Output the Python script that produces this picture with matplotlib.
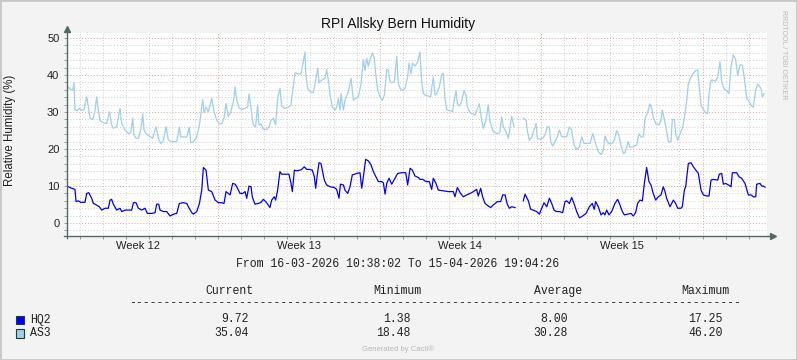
import datetime as dt
import matplotlib
matplotlib.use("Agg")
import matplotlib.pyplot as plt
import matplotlib.dates as mdates
from matplotlib.patches import Rectangle
from matplotlib.ticker import MultipleLocator, NullFormatter

nan = float("nan")

# Time window of the graph
start = dt.datetime(2026, 3, 16, 10, 38, 2)
end = dt.datetime(2026, 4, 15, 19, 4, 26)

# HQ2 sensor: hours since start, relative humidity (%)
hq2_hours = [
    0, 3.8, 8.3, 9.4, 11.8, 14.2, 18.7, 20.5, 22.6, 25.7, 27.4, 29.1, 33.7, 36.1, 39.6,
    43.0, 44.8, 46.5, 48.2, 51.7, 55.2, 56.9, 60.4, 65.6, 67.3, 69.1, 71.8, 74.3, 77.7, 81.2,
    83.6, 88.1, 91.6, 93.3, 95.4, 96.8, 100.3, 103.8, 107.2, 110.7, 114.2, 116.9, 121.1, 124.6, 126.3,
    129.8, 131.5, 135.0, 137.8, 140.2, 141.9, 144.7, 147.1, 150.6, 154.1, 157.5, 161.0, 163.4, 165.5, 167.9,
    169.7, 172.4, 174.9, 176.6, 180.1, 182.9, 185.3,
    187.0, 189.4, 191.5, 192.8, 195.6, 199.1, 201.9, 204.3, 206.7, 208.8, 211.2, 213.0, 215.7, 217.1, 219.2,
    221.6, 223.4, 226.9, 231.0, 233.1, 234.5, 236.6, 239.0, 242.5, 244.2, 247.0, 249.4, 251.8, 255.3, 257.4,
    258.8, 260.2, 262.2, 264.3, 265.7, 267.8, 270.2, 273.7, 278.2, 280.6, 283.1, 284.5, 287.6, 289.3, 292.1,
    294.5, 296.9, 301.5, 304.9, 306.7, 308.4, 310.8, 313.6, 316.4, 318.8, 322.3, 324.0, 327.5, 329.2, 331.0,
    332.7, 335.1, 337.9, 340.7, 344.1, 348.3, 352.5, 354.5, 357.0, 359.4, 362.2, 365.7, 367.4,
    370.1, 373.6, 377.0, 379.5, 381.2, 384.0, 386.4, 391.6, 396.8, 402.0, 403.7, 406.2, 409.6, 412.4, 415.9,
    421.1, 426.3, 428.0, 430.5, 432.5, 435.0, 438.4, 440.9, 443.7, 447.8, 451.3, 453.4, 455.8, 458.2, 460.3,
    462.7, 466.2, 470.0, 474.9, 476.6, 480.1, 482.5, 485.3, 488.8, 491.5, 494.0, 496.4, 499.2, 502.0, 504.4,
    506.8, 509.6, 512.4, 515.8, 518.3, 520.0, 522.8, 525.2, 527.6, 530.4, 533.2, 536.6, 540.1, 543.6, 546.6,
    548.7, 550.1,
    552.9, 555.7, 558.1, 559.8, 561.6, 564.0, 566.8, 570.2, 573.0, 575.4, 577.9, 580.0, 583.4, 586.9, 589.3,
    591.7, 593.8, 596.3, 598.7, 600.8, 603.2, 605.6, 607.7, 610.1, 612.6, 615.3, 618.1, 620.5, 622.3, 624.0,
    627.5, 631.0, 633.4, 635.5, 638.9, 640.3, 642.4, 643.8, 646.6, 649.3, 651.8, 657.0, 659.8, 662.2, 665.7,
    668.1, 670.2, 672.6, 677.1, 678.8, 681.3, 683.0, 685.4, 688.2, 691.0, 692.4, 696.9, 699.3, 702.1, 705.6,
    709.0, 711.8, 714.2, 716.7, 717.7, 721.2, 722.9, 724.6, 726.4,
]
hq2_rh = [
    10.0, 9.5, 9.1, 5.8, 6.0, 5.6, 5.6, 8.0, 8.2, 6.7, 5.3, 5.1, 4.4, 3.5, 4.0,
    4.0, 6.2, 6.4, 5.1, 3.5, 4.0, 3.1, 3.5, 3.5, 3.5, 5.5, 5.5, 4.0, 3.5, 4.0,
    2.6, 2.6, 2.8, 5.1, 5.1, 3.5, 3.1, 3.1, 1.9, 2.4, 2.6, 5.3, 5.5, 5.3, 4.4,
    2.8, 2.4, 3.1, 5.3, 8.9, 15.0, 14.3, 8.9, 8.5, 6.2, 5.5, 5.5, 5.3, 8.5, 8.0,
    7.6, 10.7, 10.5, 9.8, 8.0, 8.0, 8.5,
    6.7, 10.0, 9.8, 7.1, 5.1, 5.3, 5.6, 6.4, 5.8, 5.1, 4.2, 6.2, 7.1, 6.2, 8.9,
    13.9, 13.2, 13.2, 13.2, 10.7, 8.5, 14.3, 14.1, 14.3, 14.5, 15.2, 14.5, 14.5, 14.3, 12.5,
    9.4, 12.5, 16.3, 16.1, 14.3, 11.6, 10.3, 9.8, 9.6, 9.1, 6.7, 10.5, 10.3, 8.9, 8.0,
    9.8, 13.0, 13.4, 13.6, 9.4, 12.5, 17.2, 16.8, 15.7, 13.9, 12.1, 11.2, 11.2, 10.9, 7.8,
    10.7, 12.1, 10.5, 11.8, 13.4, 13.6, 13.6, 10.3, 14.8, 14.3, 12.7, 12.3, 11.8,
    11.8, 11.2, 11.2, 9.1, 12.1, 10.7, 8.9, 8.7, 8.5, 8.5, 7.1, 9.6, 8.0, 7.1, 7.6,
    8.2, 9.1, 7.3, 9.4, 7.1, 5.3, 4.6, 4.2, 4.9, 5.8, 5.8, 7.6, 7.6, 5.1, 4.0,
    4.4, 4.2, nan, 6.0, 7.8, 6.0, 3.7, 3.5, 3.1, 2.4, 4.0, 5.5, 4.4, 6.7, 5.3,
    3.5, 3.1, 3.1, 2.8, 5.8, 6.0, 5.3, 6.9, 5.3, 3.1, 1.4, 1.9, 2.6, 4.4, 5.3,
    3.7, 5.8,
    4.4, 2.2, 2.8, 2.2, 3.5, 2.2, 3.1, 5.3, 6.4, 4.9, 3.1, 2.2, 2.4, 2.6, 1.9,
    2.8, 5.3, 6.2, 6.0, 10.7, 15.0, 11.2, 10.3, 8.0, 6.2, 7.1, 7.6, 9.8, 8.5, 6.7,
    4.4, 6.2, 5.3, 4.0, 4.0, 4.4, 8.9, 9.8, 16.1, 16.3, 15.2, 13.4, 8.9, 7.6, 7.3,
    7.3, 11.6, 11.8, 11.6, 13.2, 13.4, 10.5, 10.7, 10.3, 9.8, 13.6, 13.6, 12.5, 12.1, 10.7,
    7.6, 7.6, 7.1, 7.1, 10.5, 10.7, 10.0, 10.0, 9.7,
]

# AS3 sensor: hours since start, relative humidity (%)
as3_hours = [
    0, 1.4, 3.8, 5.9, 7.3, 8.3, 10.8, 12.8, 15.3, 17.7, 20.5, 22.2, 23.9, 26.7, 29.1,
    30.9, 32.6, 34.4, 37.8, 41.3, 44.1, 46.5, 48.2, 51.7, 55.2, 56.9, 60.4, 63.8, 66.3, 68.4,
    69.7, 71.8, 74.3, 76.7, 78.8, 80.2, 82.2, 85.7, 89.2, 92.6, 95.1, 97.5, 100.3, 103.1, 105.5,
    109.0, 114.2, 116.9, 118.3, 121.1, 124.6, 127.3, 128.7, 131.5, 134.3, 136.7, 138.5, 141.2, 142.6, 144.7,
    147.1, 150.6, 153.0, 155.8, 158.6, 161.0, 163.4, 165.5, 167.9, 170.4, 173.2, 174.9, 176.6, 179.4, 182.9,
    188.0, 189.4, 191.5, 192.8, 193.9, 196.3, 198.4, 199.8, 201.9, 204.3, 207.8, 210.2, 212.3, 214.7, 217.1,
    219.2, 221.6, 223.4, 226.2, 230.3, 233.1, 234.5, 237.3, 240.7, 243.5, 245.9, 247.7, 248.4, 250.4, 252.9,
    256.3, 258.1, 260.9, 262.2, 265.0, 268.5, 270.2, 272.0, 273.7, 276.1, 278.9, 280.6, 282.4, 284.1, 285.1,
    287.6, 289.3, 292.8, 295.6, 298.0, 300.4, 303.2, 306.0, 308.4, 310.1, 311.9, 313.6, 315.3, 317.8, 319.8,
    321.2, 323.3, 325.7, 328.2, 330.3, 332.7, 334.4, 336.2, 337.9, 340.7, 343.1, 344.8, 346.6, 349.0, 351.8,
    354.5, 355.9, 358.0, 359.4, 362.2, 365.0,
    367.3, 369.0, 370.8, 372.5, 376.0, 378.4, 379.5, 381.2, 382.9, 384.7, 387.4, 389.9, 391.6, 393.3, 395.1,
    397.8, 401.3, 402.7, 404.8, 406.2, 408.3, 410.7, 413.1, 415.2, 416.6, 419.4, 422.1, 424.6, 426.3, 429.1,
    431.5, 433.2, 436.0, 438.4, 440.2, 443.0, 445.4, 448.9, 450.6, 452.3, 454.1, 456.8, 459.3, 462.7, 465.2,
    470.0, 474.9, 477.7, 479.0, 481.1, 483.6, 486.0, 488.1, 489.4, 492.2, 495.0, 497.4, 499.9, 501.9, 503.3,
    505.4, 507.8, 510.3, 512.4, 514.8, 517.2, 520.0, 522.8, 525.2, 527.6, 530.4, 533.2, 535.6, 538.0, 540.8,
    544.3, 547.1,
    550.1, 552.9, 555.7, 558.1, 559.8, 561.6, 564.0, 566.8, 569.5, 572.0, 573.7, 576.5, 578.9, 580.6, 582.4,
    584.1, 585.8, 589.3, 592.8, 595.2, 597.3, 599.7, 601.5, 604.2, 606.7, 608.4, 610.1, 612.6, 616.0, 618.1,
    619.5, 621.6, 624.0, 625.8, 628.5, 629.9, 632.0, 633.4, 635.5, 637.9, 640.3, 642.4, 644.8, 646.6, 649.3,
    651.8, 654.2, 656.3, 657.7, 659.8, 662.2, 664.6, 666.7, 668.1, 670.2, 672.6, 675.0, 677.1, 679.5, 681.3,
    684.0, 686.5, 688.9, 691.0, 693.4, 695.8, 697.9, 700.4, 702.8, 704.9, 707.3, 709.7, 712.5, 714.2, 716.7,
    718.7, 722.2, 723.6, 725.7,
]
as3_rh = [
    36.7, 36.7, 36.1, 35.9, 37.9, 30.5, 30.4, 31.0, 30.4, 30.7, 34.1, 31.4, 28.3, 28.0, 30.1,
    34.1, 30.5, 27.7, 27.1, 26.9, 30.1, 26.5, 25.6, 26.0, 31.0, 26.9, 25.1, 24.2, 24.4, 28.3,
    23.8, 22.9, 22.9, 25.1, 29.5, 25.1, 24.2, 23.5, 22.9, 26.0, 22.9, 21.5, 22.3, 26.0, 22.4,
    22.0, 22.0, 25.9, 23.3, 23.3, 23.2, 25.9, 21.7, 22.0, 22.9, 25.1, 27.8, 33.4, 29.8, 31.4,
    30.1, 33.7, 30.1, 27.8, 26.8, 26.8, 28.3, 32.3, 28.7, 30.1, 32.8, 36.7, 33.2, 31.0, 30.7,
    31.4, 34.9, 31.0, 28.3, 26.5, 26.0, 31.9, 26.5, 26.8, 25.3, 25.3, 26.0, 27.8, 28.3, 26.5,
    33.7, 36.4, 31.6, 31.0, 31.3, 31.9, 35.0, 40.6, 40.3, 40.3, 43.6, 46.2, 40.5, 36.4, 35.5,
    35.2, 37.7, 41.8, 37.9, 38.6, 39.1, 41.5, 38.6, 34.6, 31.4, 30.5, 31.2, 33.7, 30.5, 35.0,
    30.5, 33.2, 35.5, 39.1, 33.2, 33.7, 34.1, 37.7, 44.2, 41.2, 44.5, 42.4, 44.2, 45.9, 44.5,
    40.5, 35.9, 34.1, 33.1, 34.6, 41.5, 41.3, 38.2, 37.9, 38.2, 45.1, 37.7, 36.4, 35.8, 36.4,
    39.5, 43.2, 40.3, 43.2, 42.4, 43.6,
    46.2, 38.6, 35.0, 34.6, 34.3, 34.1, 36.4, 39.4, 34.6, 35.0, 36.7, 40.0, 40.5, 33.7, 30.7,
    30.4, 30.1, 32.8, 35.8, 32.3, 31.6, 32.8, 35.8, 34.6, 31.4, 29.8, 29.5, 29.2, 30.5, 32.2,
    27.8, 25.6, 27.8, 31.9, 27.4, 25.1, 24.4, 24.2, 24.6, 28.7, 26.0, 24.7, 22.9, 28.9, 26.0,
    nan, 28.3, 27.8, 25.1, 22.3, 23.3, 25.1, 26.9, 22.9, 22.6, 22.9, 23.8, 26.0, 26.0, 22.0,
    20.8, 22.0, 23.3, 25.1, 23.3, 23.3, 23.3, 26.0, 25.1, 21.1, 19.9, 20.6, 23.3, 21.5, 21.5,
    21.5, 24.2,
    21.5, 19.3, 18.5, 19.7, 23.5, 22.4, 21.4, 21.4, 22.4, 25.0, 24.2, 21.1, 18.8, 19.0, 20.5,
    22.0, 20.5, 20.6, 21.1, 24.1, 23.3, 23.3, 28.3, 29.8, 32.2, 31.0, 28.6, 26.9, 26.5, 27.8,
    30.5, 28.0, 24.7, 22.0, 22.0, 28.0, 28.0, 24.1, 22.4, 24.2, 25.6, 28.3, 32.8, 37.7, 39.5,
    40.5, 41.2, 41.4, 37.7, 31.9, 30.7, 29.8, 29.6, 35.0, 38.6, 38.6, 38.3, 39.5, 43.6, 38.2,
    36.1, 35.8, 35.0, 42.3, 45.4, 44.2, 40.0, 42.7, 42.7, 39.1, 33.7, 32.8, 31.6, 31.3, 35.9,
    37.6, 36.4, 34.1, 35.0,
]

# Legend table
series_names = ["HQ2", "AS3"]
series_colors = ["#0000FF", "#9FCFEA"]
stat_headers = ["Current", "Minimum", "Average", "Maximum"]
hq2_stats = ["9.72", "1.38", "8.00", "17.25"]
as3_stats = ["35.04", "18.48", "30.28", "46.20"]

W, H = 797, 360
bg = "#F3F3F3"
axis_col = "#4E6B68"
sans = "Liberation Sans"
mono = "Liberation Mono"


def px(x, y):
    # pixel position -> figure fraction
    return x / W, 1 - y / H


fig = plt.figure(figsize=(W / 100, H / 100), dpi=100, facecolor=bg)
ax = fig.add_axes([67 / W, 1 - 236 / H, 700 / W, 203 / H])
ax.set_facecolor("white")

t_hq2 = [start + dt.timedelta(hours=h) for h in hq2_hours]
t_as3 = [start + dt.timedelta(hours=h) for h in as3_hours]
ax.plot(t_hq2, hq2_rh, color=series_colors[0], lw=0.9, zorder=3)
ax.plot(t_as3, as3_rh, color=series_colors[1], lw=0.9, zorder=3)

ax.set_xlim(start, end)
ax.set_ylim(-3.5, 51.35)

# grid: daily / weekly, 2 % / 10 %
ax.xaxis.set_major_locator(mdates.WeekdayLocator(byweekday=mdates.MO))
ax.xaxis.set_minor_locator(mdates.DayLocator())
ax.xaxis.set_major_formatter(NullFormatter())
ax.yaxis.set_major_locator(MultipleLocator(10))
ax.yaxis.set_minor_locator(MultipleLocator(2))
ax.set_axisbelow(True)
ax.grid(which="minor", color="#CDCDCD", linestyle=(0, (1, 2)), lw=0.7)
ax.grid(which="major", color="#E59C9C", linestyle=(0, (1, 2)), lw=0.7)
ax.tick_params(which="both", direction="out", length=2, width=0.7, color="#9A9A9A")
ax.tick_params(axis="y", which="major", labelsize=8, pad=3.5, labelcolor="#222222")
for lab in ax.get_yticklabels():
    lab.set_family(sans)

for s in ax.spines.values():
    s.set_visible(False)

# axis lines with arrows
ax.plot([0, 0], [-0.012, 1.0], transform=ax.transAxes, color=axis_col, lw=1.0, clip_on=False, zorder=4)
ax.plot([-0.004, 1.004], [0, 0], transform=ax.transAxes, color=axis_col, lw=1.0, clip_on=False, zorder=4)
ax.plot([0], [1.02], marker="^", ms=4, color=axis_col, transform=ax.transAxes, clip_on=False, zorder=4)
ax.plot([1.0085], [0], marker=">", ms=4, color=axis_col, transform=ax.transAxes, clip_on=False, zorder=4)

# week labels at mid-week
day = start.replace(hour=12, minute=0, second=0)
while day < end:
    if day.weekday() == 3:
        ax.annotate("Week %d" % day.isocalendar()[1], xy=(day, 0), xycoords=("data", "axes fraction"),
                    xytext=(0, -9.6), textcoords="offset points", ha="center", va="baseline",
                    fontsize=8, family=sans, color="#222222")
    day += dt.timedelta(days=1)

# title and labels
fig.text(*px(398.5, 27.7), "RPI Allsky Bern Humidity", ha="center", va="baseline",
         fontsize=10, family=sans, color="#111111")
fig.text(*px(10.5, 130), "Relative Humidity (%)", rotation=90, ha="center", va="center",
         fontsize=8.3, family=sans, color="#222222")
fig.text(*px(784, 55), "RRDTOOL / TOBI OETIKER", rotation=270, ha="center", va="center",
         fontsize=5, family=sans, color="#B8B8B8")

fig.text(*px(398, 267), "From %s To %s" % (start.strftime("%d-%m-%Y %H:%M:%S"), end.strftime("%d-%m-%Y %H:%M:%S")),
         ha="center", va="baseline", fontsize=8.3, family=mono, color="#222222")

header_x = [229, 397, 558, 705]
value_x = [249, 411, 568, 723]
for hx, name in zip(header_x, stat_headers):
    fig.text(*px(hx, 294), name, ha="center", va="baseline", fontsize=8.3, family=mono, color="#222222")
fig.text(*px(129, 306), "-" * 89, ha="left", va="baseline", fontsize=8.3, family=mono, color="#222222")

for row, (name, col, stats) in enumerate(zip(series_names, series_colors, [hq2_stats, as3_stats])):
    base = 322.5 + row * 13.7
    x0, y0 = px(15.5, base + 1.5)
    fig.add_artist(Rectangle((x0, y0), 8 / W, 8.5 / H, transform=fig.transFigure,
                             facecolor=col, edgecolor="#1E3A3A", lw=0.8))
    fig.text(*px(30, base), name, ha="left", va="baseline", fontsize=8.3, family=mono, color="#222222")
    for vx, v in zip(value_x, stats):
        fig.text(*px(vx, base), v, ha="right", va="baseline", fontsize=8.3, family=mono, color="#222222")

fig.text(*px(398, 351), "Generated by Cacti®", ha="center", va="baseline",
         fontsize=5.5, family=sans, color="#B8B8B8")

fig.add_artist(Rectangle((0, 0), 1, 1, transform=fig.transFigure, fill=False,
                         edgecolor="#C8C8C8", lw=2))

fig.savefig("out.png", dpi=100, facecolor=bg)
